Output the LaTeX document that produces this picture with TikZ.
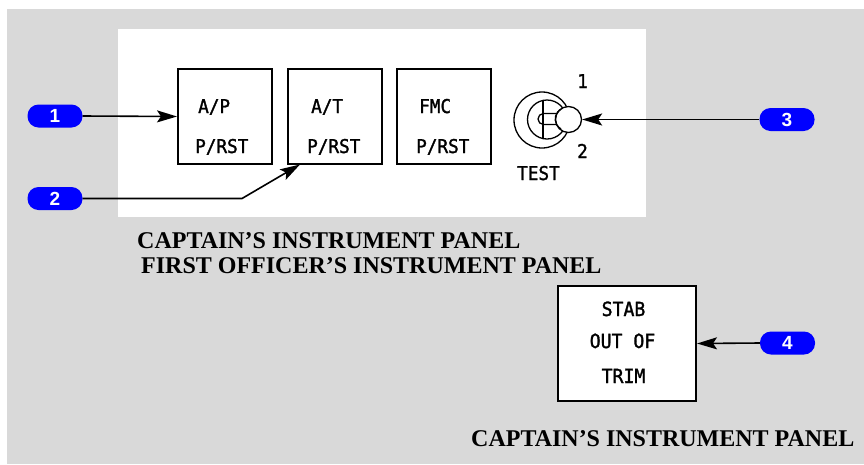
\documentclass[tikz,border=0pt]{standalone}
\usepackage{fontspec}
\usetikzlibrary{arrows.meta}
\newfontfamily\monof[FakeStretch=0.93,FakeBold=1.5]{DejaVu Sans Mono}
\newfontfamily\badgef{Liberation Sans}
\newfontfamily\titlef{Liberation Serif}
\definecolor{bggray}{RGB}{217,217,217}
\definecolor{badgeblue}{RGB}{0,0,255}
\begin{document}
\begin{tikzpicture}[x=1pt,y=-1pt,
  panelbox/.style={draw=black,line width=2pt,fill=white,minimum width=94pt,minimum height=95pt,inner sep=0pt},
  lbl/.style={font=\monof\fontsize{19}{19}\selectfont,inner sep=0pt,anchor=base west},
  clbl/.style={font=\monof\fontsize{19.5}{19.5}\selectfont,inner sep=0pt,anchor=base},
  badge/.style={fill=badgeblue,rounded corners=11pt,minimum width=55pt,minimum height=23pt,inner sep=0pt,text=white,font=\badgef\bfseries\fontsize{19}{19}\selectfont},
  conn/.style={line width=1.6pt,-{Stealth[length=20pt,width=12pt,inset=4pt]}},
  titletext/.style={font=\titlef\bfseries\fontsize{24}{24}\selectfont,inner sep=0pt,anchor=base west},
  sw/.style={line width=1.3pt}]
\useasboundingbox (0,0) rectangle (864,464);
\fill[bggray] (7,9) rectangle (864,464);
\fill[white] (118,29) rectangle (646,217);

% switch boxes
\node[panelbox] (ap) at (225,116.5) {};
\node[panelbox] (at) at (334.5,116.5) {};
\node[panelbox] (fmc) at (444,116.5) {};
\node[lbl] (apt) at (198,113) {A/P};
\node[lbl] (apb) at (195,153) {P/RST};
\node[lbl] (att) at (311,113) {A/T};
\node[lbl] (atb) at (307,153) {P/RST};
\node[lbl] (fmct) at (419,113) {FMC};
\node[lbl] (fmcb) at (416,153) {P/RST};

% toggle switch
\draw[sw] (542,120) circle (28pt);
\draw[sw,fill=white] (547,119.5) circle (19.5pt);
\draw[sw] (543,100) -- (543,139);
\draw[sw,fill=white] (560,113.5) -- (543.5,113.5) arc[start angle=90,end angle=270,radius=5.5pt] -- (560,124.5);
\draw[sw] (543,107) -- (543,132);
\node[circle,draw,line width=1.3pt,fill=white,minimum size=26pt,inner sep=0pt] (knob) at (568.5,119.5) {};
\draw[sw] (561,109) arc[start angle=120,end angle=240,radius=11.5pt];
\node[lbl] (one) at (577,88) {1};
\node[lbl] (two) at (577,158) {2};
\node[lbl] (test) at (517,180) {TEST};

% stab out of trim
\node[draw=black,line width=2pt,fill=white,minimum width=138pt,minimum height=115pt,inner sep=0pt] (stab) at (627,343.5) {};
\node[clbl] (s1) at (623.5,316) {STAB};
\node[clbl] (s2) at (622.5,348) {OUT OF};
\node[clbl] (s3) at (623.5,383) {TRIM};

% badges
\node[badge] (b1) at (55,116) {1};
\node[badge] (b2) at (55,198.5) {2};
\node[badge] (b3) at (787,119.5) {3};
\node[badge] (b4) at (787.5,343) {4};

% connectors
\coordinate (bend) at (242,198.5);
\coordinate (atin) at (300,164.5);
\draw[conn] (b1.east) -- (ap.west);
\draw[conn] (b2.east) -- (bend) -- (atin);
\draw[conn] (b3.west) -- (knob.east);
\draw[conn] (b4.west) -- (stab.east);

% titles
\node[titletext] (t1) at (137,248) {CAPTAIN’S INSTRUMENT PANEL};
\node[titletext] (t2) at (141,273) {FIRST OFFICER’S INSTRUMENT PANEL};
\node[titletext] (t3) at (471,446) {CAPTAIN’S INSTRUMENT PANEL};
\end{tikzpicture}
\end{document}
